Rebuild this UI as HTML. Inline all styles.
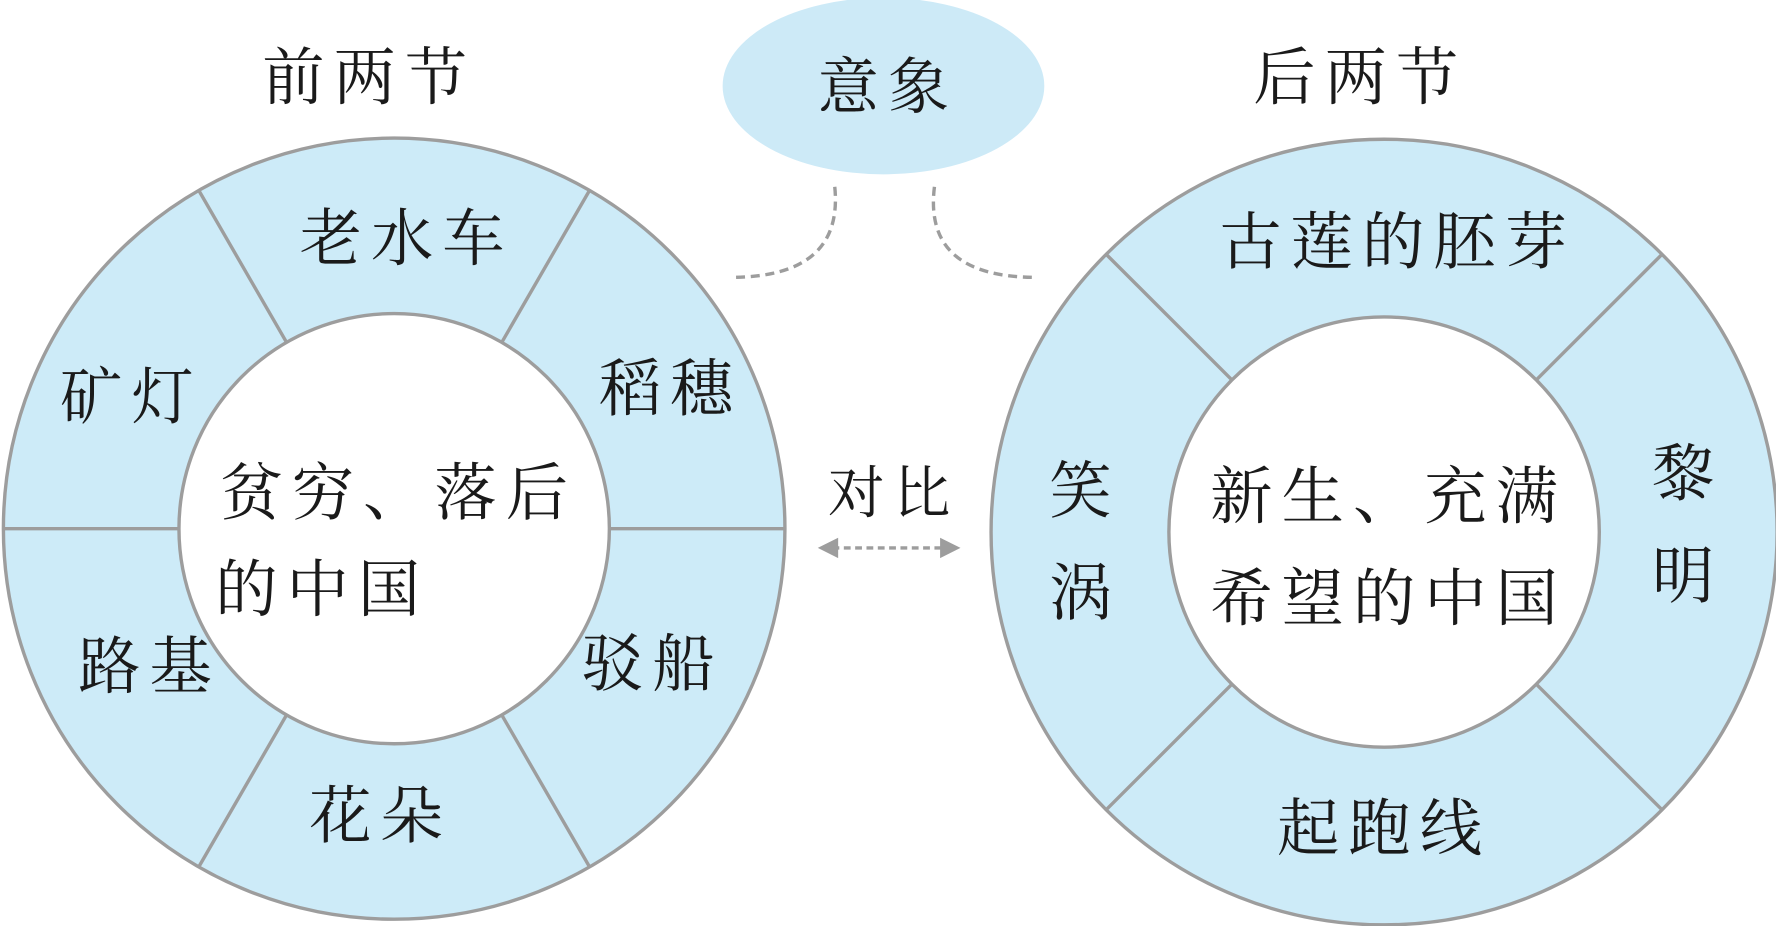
<!DOCTYPE html>
<html><head><meta charset="utf-8"><style>
html,body{margin:0;padding:0;background:#fff;}
svg{display:block;}
text{font-family:"Liberation Serif","Noto Serif CJK SC","Noto Sans CJK SC",serif;fill:#1a1a1a;text-anchor:middle;dominant-baseline:central;}
</style></head><body>
<svg width="1776" height="926" viewBox="0 0 1568 818" preserveAspectRatio="none" xmlns="http://www.w3.org/2000/svg">
<circle cx="348" cy="467" r="345" fill="#cdebf8" stroke="#9d9d9d" stroke-width="3"/>
<g stroke="#9d9d9d" stroke-width="3">
<line x1="3" y1="467" x2="693" y2="467"/>
<line x1="175.5" y1="168.2" x2="520.5" y2="765.8"/>
<line x1="520.5" y1="168.2" x2="175.5" y2="765.8"/>
</g>
<circle cx="348" cy="467" r="190" fill="#fff" stroke="#9d9d9d" stroke-width="3"/>
<circle cx="1222" cy="470" r="347" fill="#cdebf8" stroke="#9d9d9d" stroke-width="3"/>
<g stroke="#9d9d9d" stroke-width="3">
<line x1="976.6" y1="224.6" x2="1467.4" y2="715.4"/>
<line x1="1467.4" y1="224.6" x2="976.6" y2="715.4"/>
</g>
<circle cx="1222" cy="470" r="190" fill="#fff" stroke="#9d9d9d" stroke-width="3"/>
<ellipse cx="780" cy="76" rx="142" ry="78" fill="#cdeaf7"/>
<text x="784" y="78" font-size="54" letter-spacing="8">意象</text>
<path d="M737 165 Q745 245 645 245" fill="none" stroke="#9d9d9d" stroke-width="3" stroke-dasharray="8 5"/>
<path d="M825 165 Q815 245 915 245" fill="none" stroke="#9d9d9d" stroke-width="3" stroke-dasharray="8 5"/>
<line x1="735" y1="484" x2="835" y2="484" stroke="#9d9d9d" stroke-width="3" stroke-dasharray="6 4"/>
<polygon points="722,484 740,475 740,493" fill="#9d9d9d"/>
<polygon points="848,484 830,475 830,493" fill="#9d9d9d"/>
<text x="789" y="437" font-size="50" letter-spacing="8">对比</text>
<g font-size="55" letter-spacing="8">
<text x="326" y="70">前两节</text>
<text x="1201" y="70">后两节</text>
<text x="359" y="212">老水车</text>
<text x="592" y="345">稻穗</text>
<text x="576" y="588">驳船</text>
<text x="336" y="722">花朵</text>
<text x="132" y="590">路基</text>
<text x="116" y="352">矿灯</text>
<text x="352" y="437">贫穷、落后</text>
<text x="190" y="522" style="text-anchor:start">的中国</text>
<text x="1234" y="215">古莲的胚芽</text>
<text x="1490" y="420">黎</text>
<text x="1490" y="510">明</text>
<text x="1222" y="733">起跑线</text>
<text x="958" y="435">笑</text>
<text x="958" y="525">涡</text>
<text x="1226" y="440">新生、充满</text>
<text x="1226" y="530">希望的中国</text>
</g>
</svg>
</body></html>
